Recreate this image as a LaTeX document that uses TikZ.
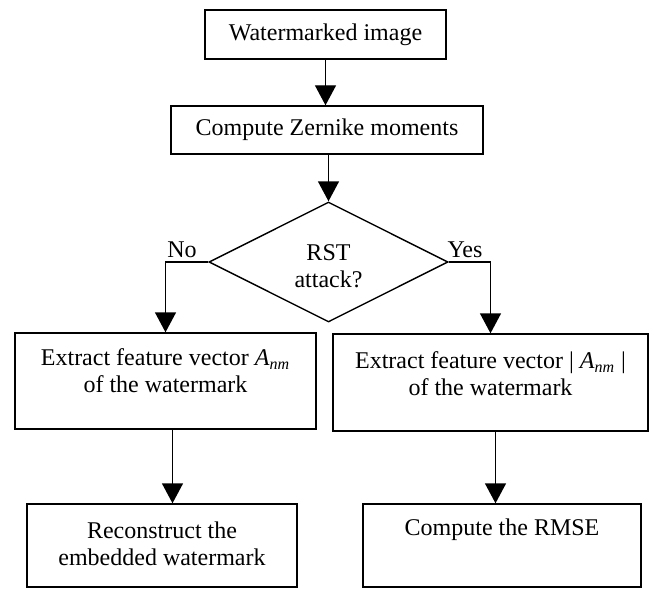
\documentclass[tikz,border=0pt]{standalone}
\usepackage{fontspec}
\setmainfont{Liberation Serif}
\usetikzlibrary{shapes.geometric,arrows.meta}
\begin{document}
\begin{tikzpicture}[x=0.5pt,y=-0.5pt,
  box/.style={draw,line width=0.7pt,rectangle,inner sep=0pt},
  txt/.style={align=center,inner sep=0pt,font=\fontsize{12}{13.5}\selectfont},
  dia/.style={draw,line width=0.7pt,diamond,inner sep=0pt,aspect=2},
  arr/.style={line width=0.7pt,-{Triangle[width=10.5pt,length=10pt]}},
  conn/.style={line width=0.7pt}]
\path[use as bounding box] (0,0) rectangle (656,588);
% boxes
\node[box,minimum width=120.5pt,minimum height=24.5pt] (b1) at (325.5,34.5) {};
\node[txt] (t1) at (325.5,35) {Watermarked image};
\node[box,minimum width=156pt,minimum height=24pt] (b2) at (327,130) {};
\node[txt] (t2) at (327,130) {Compute Zernike moments};
\node[dia,minimum width=119.5pt,minimum height=60pt] (d) at (328.5,262) {};
\node[txt] (td) at (328.5,266) {RST\\attack?};
\node[box,minimum width=150.5pt,minimum height=48pt] (b3) at (165.5,381) {};
\node[txt] (t3) at (165.5,371) {Extract feature vector \textit{A}\textsubscript{\textit{nm}}\\of the watermark};
\node[box,minimum width=157.5pt,minimum height=48.5pt] (b4) at (490.5,382.5) {};
\node[txt] (t4) at (490.5,374) {Extract feature vector | \textit{A}\textsubscript{\textit{nm}} |\\of the watermark};
\node[box,minimum width=135pt,minimum height=41.5pt] (b5) at (162,545.5) {};
\node[txt] (t5) at (162,544) {Reconstruct the\\embedded watermark};
\node[box,minimum width=139pt,minimum height=41.5pt] (b6) at (502,545.5) {};
\node[txt] (t6) at (502,530) {Compute the RMSE};
% labels
\node[txt] (no) at (182,250) {No};
\node[txt] (yes) at (465,250) {Yes};
% connectors
\draw[arr] (b1.south) -- (b1.south |- b2.north);
\draw[arr] (b2.south -| d.north) -- (d.north);
\draw[arr] (d.west) -| (b3.north);
\draw[arr] (d.east) -| (b4.north);
\draw[arr] ([xshift=3.5pt]b3.south) -- ([xshift=3.5pt]b3.south |- b5.north);
\draw[arr] ([xshift=2.5pt]b4.south) -- ([xshift=2.5pt]b4.south |- b6.north);
\end{tikzpicture}
\end{document}
